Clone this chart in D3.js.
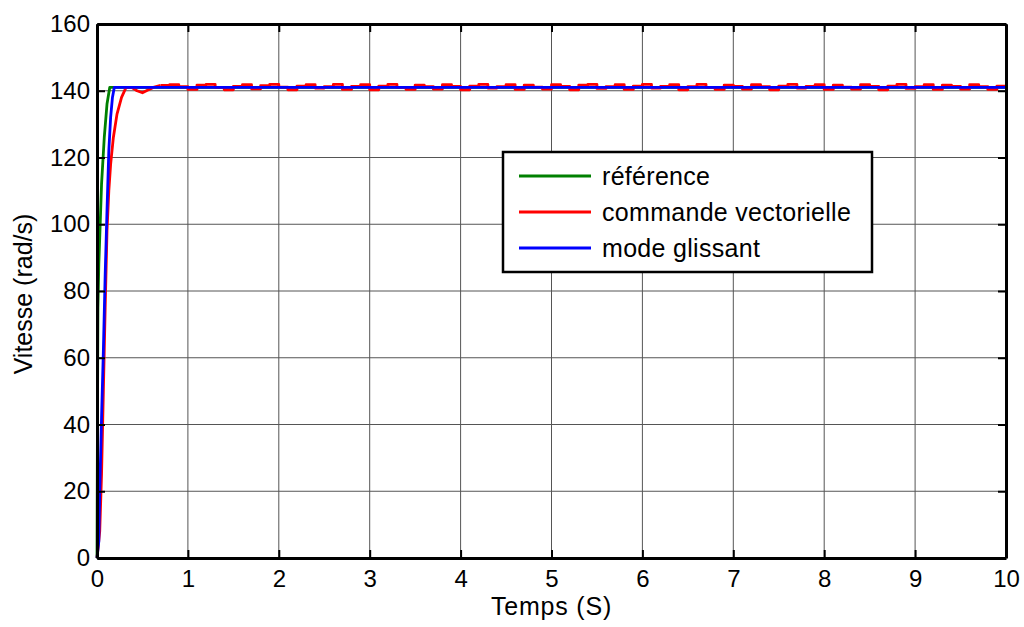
<!DOCTYPE html>
<html lang="fr">
<head>
<meta charset="UTF-8">
<title>Vitesse - référence, commande vectorielle, mode glissant</title>
<script src="https://d3js.org/d3.v7.min.js"></script>
<style>
  body { margin: 0; background: #fff; }
  text { font-family: "Liberation Sans", Arial, sans-serif; }
</style>
</head>
<body>
<svg id="chart" width="1024" height="627"></svg>
<script>
// ---- data ----
const xTicks = [0, 1, 2, 3, 4, 5, 6, 7, 8, 9, 10];
const yTicks = [0, 20, 40, 60, 80, 100, 120, 140, 160];

// reference (green): fast rise, then flat
const refT = [0, 0.005, 0.01, 0.02, 0.03, 0.05, 0.08, 0.11, 0.14, 10];
const refV = [0, 40, 75, 88, 96, 112, 126, 136, 141, 141];

// sliding mode (blue)
const smT = [0, 0.02, 0.03, 0.05, 0.07, 0.09, 0.11, 0.13, 0.15, 0.17, 0.19, 10];
const smV = [0, 5, 20, 42, 62, 85, 104, 122, 132, 138, 141, 141];

// vector control (red): slower rise, small dip
const vcT = [0, 0.03, 0.05, 0.07, 0.09, 0.11, 0.13, 0.15, 0.18, 0.22, 0.27, 0.32, 0.38, 0.44, 0.5, 0.56, 0.62, 0.7];
const vcV = [0, 8, 25, 50, 75, 98, 110, 118, 126, 133, 138, 141, 141, 140, 139.4, 140.2, 141, 141.6];
// ripple after 0.7 s, one value every 0.1 s from 0.8 to 10
const vcRipple = [
  141.8, 141.2, 140.4, 141.7, 141.9, 141.0, 140.3, 141.3, 141.8, 140.6,
  141.5, 141.9, 141.1, 140.3, 141.4, 141.8, 140.8, 141.2, 141.9, 140.4,
  141.3, 141.8, 140.3, 141.4, 141.9, 141.0, 140.4, 141.7, 141.2, 140.5,
  141.8, 141.3, 140.3, 141.4, 141.9, 140.8, 141.2, 141.8, 140.4, 141.7,
  141.1, 140.5, 141.8, 141.3, 140.3, 141.7, 141.9, 140.7, 141.2, 141.8,
  140.4, 141.4, 141.9, 140.8, 141.3, 141.8, 140.3, 141.2, 141.9, 141.0,
  140.4, 141.7, 141.3, 140.5, 141.8, 141.2, 140.3, 141.4, 141.9, 140.8,
  141.3, 141.8, 140.4, 141.7, 141.1, 140.5, 141.8, 141.3, 140.3, 141.4,
  141.9, 140.7, 141.2, 141.8, 140.4, 141.7, 141.3, 140.5, 141.8, 141.2,
  140.4, 141.4, 141.0
];

const seriesNames = ["référence", "commande vectorielle", "mode glissant"];
const seriesColors = ["#008000", "#ff0000", "#0000ff"];

// ---- build point lists ----
const refPts = refT.map((t, i) => [t, refV[i]]);
const smPts = smT.map((t, i) => [t, smV[i]]);
const vcRise = vcT.map((t, i) => [t, vcV[i]]);
const vcTail = [vcRise[vcRise.length - 1]]
  .concat(vcRipple.map((v, i) => [+(0.8 + i * 0.1).toFixed(2), v]));

// ---- layout ----
const svg = d3.select("#chart");
const margin = {top: 24, right: 18, bottom: 69, left: 97};
const width = 1024 - margin.left - margin.right;
const height = 627 - margin.top - margin.bottom;
const g = svg.append("g").attr("transform", `translate(${margin.left},${margin.top})`);

const x = d3.scaleLinear().domain([0, 10]).range([0, width]);
const y = d3.scaleLinear().domain([0, 160]).range([height, 0]);

// grid
g.append("g").selectAll("line").data(xTicks).join("line")
  .attr("x1", d => x(d)).attr("x2", d => x(d))
  .attr("y1", 0).attr("y2", height)
  .attr("stroke", "#555").attr("stroke-width", 1);
g.append("g").selectAll("line").data(yTicks).join("line")
  .attr("x1", 0).attr("x2", width)
  .attr("y1", d => y(d)).attr("y2", d => y(d))
  .attr("stroke", "#555").attr("stroke-width", 1);

// data lines
const line = d3.line().x(d => x(d[0])).y(d => y(d[1]));
const stepLine = d3.line().x(d => x(d[0])).y(d => y(d[1])).curve(d3.curveStepAfter);
const lines = g.append("g").attr("fill", "none").attr("stroke-width", 2.8).attr("stroke-linejoin", "round");
lines.append("path").attr("d", line(refPts)).attr("stroke", seriesColors[0]);
lines.append("path").attr("d", line(vcRise)).attr("stroke", seriesColors[1]);
lines.append("path").attr("d", stepLine(vcTail)).attr("stroke", seriesColors[1]);
lines.append("path").attr("d", line(smPts)).attr("stroke", seriesColors[2]);

// axes (ticks inward, MATLAB style)
const xAxis = g.append("g").attr("transform", `translate(0,${height})`)
  .call(d3.axisBottom(x).tickValues(xTicks).tickSizeInner(-8).tickSizeOuter(0).tickPadding(12));
const yAxis = g.append("g")
  .call(d3.axisLeft(y).tickValues(yTicks).tickSizeInner(-8).tickSizeOuter(0).tickPadding(7));
const xAxisTop = g.append("g")
  .call(d3.axisTop(x).tickValues(xTicks).tickSizeInner(-8).tickSizeOuter(0).tickFormat(""));
const yAxisRight = g.append("g").attr("transform", `translate(${width},0)`)
  .call(d3.axisRight(y).tickValues(yTicks).tickSizeInner(-8).tickSizeOuter(0).tickFormat(""));

[xAxis, yAxis, xAxisTop, yAxisRight].forEach(a => {
  a.select(".domain").attr("stroke", "#000").attr("stroke-width", 3);
  a.selectAll(".tick line").attr("stroke", "#000").attr("stroke-width", 2);
  a.selectAll(".tick text")
    .attr("fill", "#000")
    .style("font-size", "24px")
    .style("font-family", "'Liberation Sans', Arial, sans-serif");
});

// axis labels
svg.append("text")
  .attr("x", margin.left + width / 2).attr("y", 615)
  .attr("text-anchor", "middle")
  .style("font-size", "25px")
  .style("letter-spacing", "0.8px")
  .text("Temps (S)");
svg.append("text")
  .attr("transform", `translate(32,${margin.top + height / 2 + 3}) rotate(-90)`)
  .attr("text-anchor", "middle")
  .style("font-size", "25px")
  .text("Vitesse (rad/s)");

// ---- legend ----
const legend = svg.append("g").attr("transform", "translate(503,152)");
legend.append("rect")
  .attr("width", 369).attr("height", 120)
  .attr("fill", "#fff").attr("stroke", "#000").attr("stroke-width", 2.5);

const legendItem = legend.selectAll(".legend-item")
  .data(seriesNames)
  .join("g")
  .attr("class", "legend-item")
  .attr("transform", (d, i) => `translate(0,${24 + i * 36})`);

legendItem.append("line")
  .attr("x1", 16).attr("x2", 88)
  .attr("stroke", (d, i) => seriesColors[i])
  .attr("stroke-width", 2.8);

legendItem.append("text")
  .attr("x", 99).attr("y", 9)
  .attr("fill", "#000")
  .style("font-size", "25px")
  .style("letter-spacing", "0.3px")
  .text(d => d);
</script>
</body>
</html>
